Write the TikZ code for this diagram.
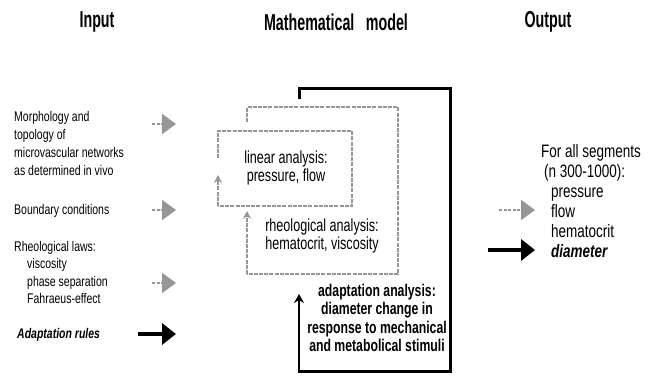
\documentclass[tikz,border=0pt]{standalone}
\usepackage{fontspec}
\setmainfont{Liberation Sans}[FakeStretch=0.75]
\newfontfamily\hdfont{Liberation Sans}[FakeStretch=0.62]
\newfontfamily\bxfont{Liberation Sans}[FakeStretch=0.72]
\usetikzlibrary{arrows.meta}
\definecolor{dgray}{RGB}{150,150,150}
\begin{document}
\begin{tikzpicture}[x=1pt,y=-1pt,
  header/.style={font=\hdfont\bfseries\fontsize{23}{26}\selectfont, inner sep=0},
  lefttxt/.style={font=\fontsize{14}{18}\selectfont, align=left, anchor=north west, inner sep=0},
  righttxt/.style={font=\fontsize{18}{20}\selectfont, align=left, anchor=north west, inner sep=0},
  boxtxt/.style={font=\bxfont\fontsize{17.5}{17.5}\selectfont, align=center, inner sep=0},
  adtxt/.style={font=\bxfont\bfseries\fontsize{17}{18.5}\selectfont, align=center, inner sep=0},
  grayarrow/.style={dgray, dash pattern=on 3pt off 1.5pt, line width=2pt, -{Triangle[length=14pt,width=20pt]}},
  blackarrow/.style={black, line width=4.5pt, -{Triangle[length=14pt,width=21pt]}},
  grayedge/.style={dgray, line width=1.5pt, dash pattern=on 4pt off 1.2pt},
  smallgray/.style={dgray, line width=1.5pt, dash pattern=on 4pt off 1.2pt, -{Stealth[length=8pt,width=8pt]}},
  blackedge/.style={black, line width=3pt},
  smallblack/.style={black, line width=2.2pt, -{Stealth[length=9pt,width=10pt]}}
]
\useasboundingbox (0,0) rectangle (652,379);
\fill[white] (0,0) rectangle (652,379);

% headers
\node[header] (hin) at (97,22) {Input};
\node[header] (hmm) at (336,22) {Mathematical\hspace{0.5em}model};
\node[header] (hout) at (548,22) {Output};

% input texts
\node[lefttxt] (morph) at (14,111) {Morphology and\\topology of\\microvascular networks\\as determined in vivo};
\node[lefttxt] (bound) at (14,204) {Boundary conditions};
\node[lefttxt, font=\fontsize{14}{17.5}\selectfont] (rheol) at (14,241) {Rheological laws:\\\hspace{13pt}viscosity\\\hspace{13pt}phase separation\\\hspace{13pt}Fahraeus-effect};
\node[lefttxt, font=\bfseries\itshape\fontsize{14}{18}\selectfont] (adrules) at (17,328) {Adaptation rules};

% input arrows
\coordinate (a1s) at (152,124); \coordinate (a1e) at (176,124);
\coordinate (a2s) at (152,210); \coordinate (a2e) at (176,210);
\coordinate (a3s) at (152,283); \coordinate (a3e) at (176,283);
\coordinate (a4s) at (138,334); \coordinate (a4e) at (176,334);
\draw[grayarrow] (a1s) -- (a1e);
\draw[grayarrow] (a2s) -- (a2e);
\draw[grayarrow] (a3s) -- (a3e);
\draw[blackarrow] (a4s) -- (a4e);

% adaptation box (black)
\coordinate (adtl) at (299,89); \coordinate (adbr) at (450,371);
\draw[blackedge] (299,99) -- (adtl) -- (450,89) -- (adbr) -- (299,371);
\draw[smallblack] (299,372.5) -- (299,294);

% rheological box (gray dashed)
\coordinate (rhtl) at (247,107); \coordinate (rhbr) at (398,274);
\fill[white] (rhtl) rectangle (rhbr);
\draw[grayedge] (247,122) -- (rhtl) -- (398,107) -- (rhbr) -- (247,274);
\draw[smallgray] (247,274) -- (247,211);

% linear box (gray dashed)
\coordinate (lntl) at (218,131); \coordinate (lnbr) at (352,206);
\fill[white] (lntl) rectangle (lnbr);
\draw[grayedge] (218,158) -- (lntl) -- (352,131) -- (lnbr) -- (218,206);
\draw[smallgray] (218,206) -- (218,175);

% box texts
\node[boxtxt] (lintxt) at (286,168) {linear analysis:\\pressure, flow};
\node[boxtxt] (rhtxt) at (322,236) {rheological analysis:\\hematocrit, viscosity};
\node[adtxt] (adtxt) at (377,318) {adaptation analysis:\\diameter change in\\response to mechanical\\and metabolical stimuli};

% output
\node[righttxt] (outtxt) at (541,144) {For all segments\\\hspace{3pt}(n 300-1000):\\\hspace{10pt}pressure\\\hspace{10pt}flow\\\hspace{10pt}hematocrit\\\hspace{10pt}\textbf{\textit{diameter}}};
\coordinate (o1s) at (499,210); \coordinate (o1e) at (535,210);
\coordinate (o2s) at (488,250); \coordinate (o2e) at (535,250);
\draw[grayarrow] (o1s) -- (o1e);
\draw[blackarrow] (o2s) -- (o2e);
\end{tikzpicture}
\end{document}
